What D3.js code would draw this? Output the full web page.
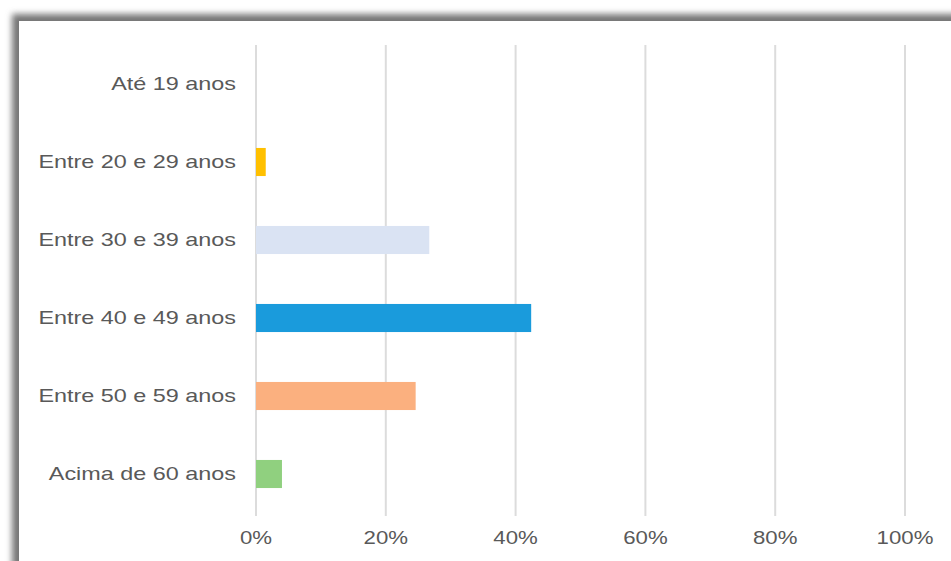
<!DOCTYPE html>
<html><head><meta charset="utf-8">
<script src="https://cdn.jsdelivr.net/npm/d3@7"></script>
<style>body{margin:0;background:#fff}svg{display:block}</style>
</head><body>
<script>
const categories = ["Até 19 anos","Entre 20 e 29 anos","Entre 30 e 39 anos","Entre 40 e 49 anos","Entre 50 e 59 anos","Acima de 60 anos"];
const values = [0, 1.5, 26.7, 42.4, 24.6, 4.0];
const colors = ["#ffc000","#ffc000","#dae3f3","#1a9bdc","#fbb07f","#90d07f"];
const ticks = [0,20,40,60,80,100];
const tickLabels = ["0%","20%","40%","60%","80%","100%"];

const W = 951, H = 561;
const svg = d3.select("body").append("svg").attr("width",W).attr("height",H);
const defs = svg.append("defs");
const f = defs.append("filter").attr("id","sh").attr("x","-10%").attr("y","-10%").attr("width","120%").attr("height","120%");
f.append("feGaussianBlur").attr("stdDeviation",3);

// frame with shadow
svg.append("rect").attr("x",12).attr("y",14).attr("width",1000).attr("height",600).attr("fill","#777").attr("filter","url(#sh)");
svg.append("rect").attr("x",19).attr("y",21).attr("width",1000).attr("height",600).attr("fill","#fff");

const x = d3.scaleLinear().domain([0,100]).range([256,905]);
const y = d3.scaleBand().domain(categories).range([45,513]).paddingInner(0.64).paddingOuter(0.32);

// grid
svg.append("g").selectAll("line").data(ticks).join("line")
  .attr("x1",d=>x(d)).attr("x2",d=>x(d)).attr("y1",45).attr("y2",516)
  .attr("stroke","#dcdcdc").attr("stroke-width",2);

// bars
svg.append("g").selectAll("rect").data(categories).join("rect")
  .attr("x",x(0)).attr("y",d=>y(d)).attr("height",y.bandwidth())
  .attr("width",(d,i)=>x(values[i])-x(0)).attr("fill",(d,i)=>colors[i]);

const sx = 1.3;
// category labels
svg.append("g").selectAll("g").data(categories).join("g")
  .attr("transform",d=>`translate(236,${y(d)+y.bandwidth()/2}) scale(${sx},1)`)
  .append("text").text(d=>d).attr("text-anchor","end").attr("dy","0.35em")
  .attr("font-family","Liberation Sans, Arial, sans-serif").attr("font-size",18).attr("fill","#595959");

// tick labels
svg.append("g").selectAll("g").data(ticks).join("g")
  .attr("transform",d=>`translate(${x(d)},538) scale(${sx*0.95},1)`)
  .append("text").text((d,i)=>tickLabels[i]).attr("text-anchor","middle").attr("dy","0.35em")
  .attr("font-family","Liberation Sans, Arial, sans-serif").attr("font-size",18).attr("fill","#595959");
</script>
</body></html>
